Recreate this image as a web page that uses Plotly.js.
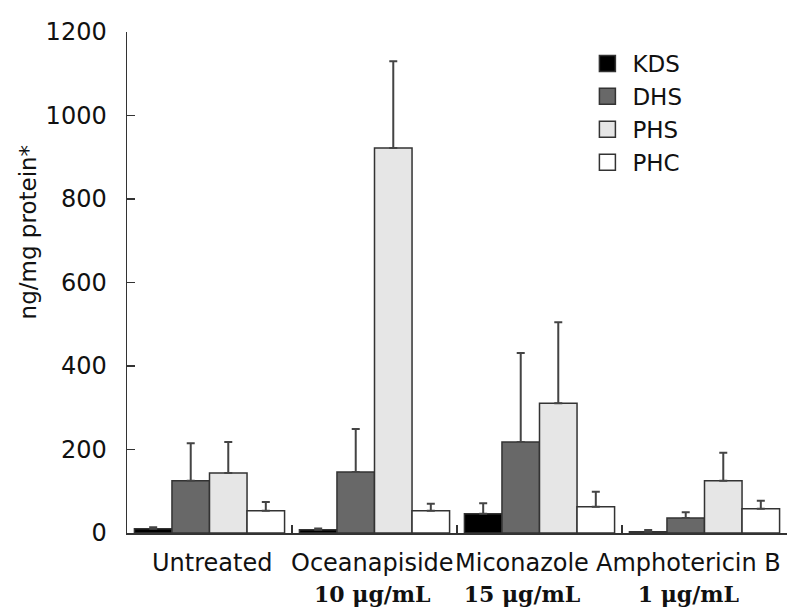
<!DOCTYPE html>
<html>
<head>
<meta charset="utf-8">
<script src="https://cdn.plot.ly/plotly-3.0.1.min.js"></script>
<style>html,body{margin:0;padding:0;background:#fff;}#chart{width:796px;height:607px;}</style>
</head>
<body>
<div id="chart"></div>
<script>
var categories = ["Untreated", "Oceanapiside", "Miconazole", "Amphotericin B"];
var doses = ["", "10 μg/mL", "15 μg/mL", "1 μg/mL"];
var seriesNames = ["KDS", "DHS", "PHS", "PHC"];
var kds = [10, 8, 46, 3];
var kdsErr = [4, 3, 25, 4];
var dhs = [125, 146, 218, 36];
var dhsErr = [90, 103, 213, 14];
var phs = [144, 922, 311, 125];
var phsErr = [74, 208, 194, 67];
var phc = [53, 53, 63, 58];
var phcErr = [21, 17, 36, 19];
var yTicks = [0, 200, 400, 600, 800, 1000, 1200];
var fills = ["#000000", "#686868", "#e6e6e6", "#ffffff"];

var values = [kds, dhs, phs, phc];
var errs = [kdsErr, dhsErr, phsErr, phcErr];
var labelShift = [2, -2, -18, -16];

var traces = seriesNames.map(function (n, k) {
  return {
    type: "bar", name: n, x: categories, y: values[k], showlegend: false,
    marker: {color: fills[k], line: {color: "#333", width: 1.5}},
    error_y: {type: "data", symmetric: false, array: errs[k], arrayminus: errs[k].map(function(){return 0;}),
              color: "#444", thickness: 2, width: 4}
  };
});
seriesNames.forEach(function (n, k) {
  traces.push({
    type: "scatter", mode: "markers", name: n, x: [null], y: [null], legendgroup: n,
    marker: {symbol: "square", size: 19, color: fills[k], line: {color: "#333", width: 1.5}}
  });
});

var annotations = [{
  text: "ng/mg protein*", textangle: -90, xref: "paper", yref: "paper",
  x: -0.15, y: 0.60, xanchor: "center", yanchor: "middle", showarrow: false,
  font: {size: 23, color: "#111"}
}];
categories.forEach(function (c, i) {
  var t = c + (doses[i] ? "<br><b><span style=\"font-family:'DejaVu Serif',serif;font-size:22px\">" + doses[i] + "</span></b>" : "");
  annotations.push({
    text: t, xref: "x", yref: "paper", x: c, y: 0, yanchor: "top", xanchor: "center",
    xshift: labelShift[i], yshift: -14, showarrow: false, align: "center",
    font: {size: 24, color: "#111"}
  });
});

var layout = {
  width: 796, height: 607,
  margin: {l: 127, r: 9, t: 32, b: 74},
  paper_bgcolor: "#fff", plot_bgcolor: "#fff",
  barmode: "group", bargap: 0.09, bargroupgap: 0,
  font: {family: "DejaVu Sans, sans-serif", color: "#111"},
  showlegend: true,
  legend: {x: 0.69, y: 0.98, xanchor: "left", yanchor: "top", font: {size: 23}, tracegroupgap: 0,
           traceorder: "grouped", bgcolor: "rgba(0,0,0,0)", itemwidth: 40},
  xaxis: {
    type: "category", categoryarray: categories, showticklabels: false,
    showline: true, linecolor: "#333", linewidth: 1.5,
    ticks: "inside", tickson: "boundaries", ticklen: 8, tickcolor: "#333", tickwidth: 1.5,
    showgrid: false, zeroline: false, range: [-0.5, 3.5]
  },
  yaxis: {
    range: [0, 1200], tickvals: yTicks,
    showline: true, linecolor: "#333", linewidth: 1.5,
    ticks: "inside", ticklen: 8, tickcolor: "#333", tickwidth: 1.5,
    tickfont: {size: 24}, ticklabelstandoff: 14, showgrid: false, zeroline: false
  },
  annotations: annotations
};

Plotly.newPlot("chart", traces, layout, {displayModeBar: false, staticPlot: true});
</script>
</body>
</html>
